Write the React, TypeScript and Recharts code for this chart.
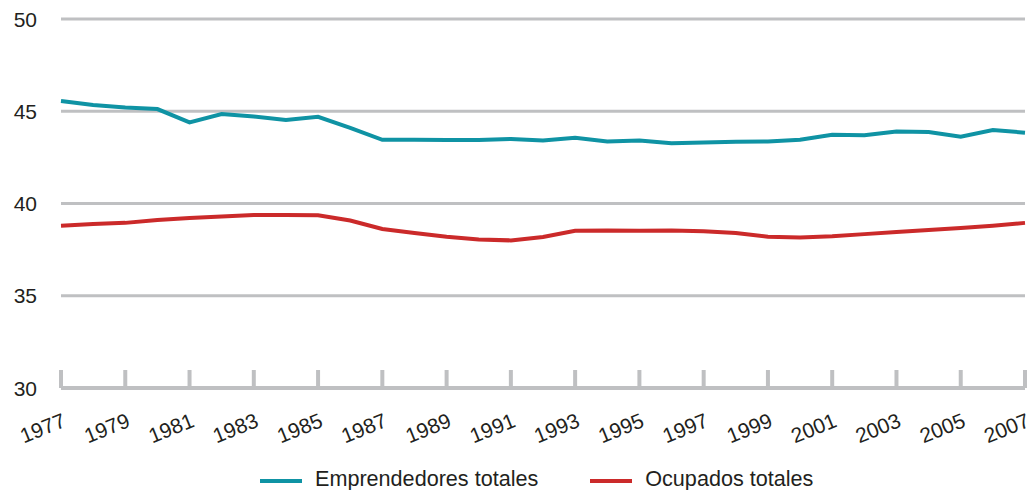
import { LineChart, Line, XAxis, YAxis, CartesianGrid, Legend } from 'recharts';

const years = [
  1977, 1978, 1979, 1980, 1981, 1982, 1983, 1984, 1985, 1986, 1987, 1988, 1989, 1990, 1991, 1992,
  1993, 1994, 1995, 1996, 1997, 1998, 1999, 2000, 2001, 2002, 2003, 2004, 2005, 2006, 2007
];

const emprendedores = [
  45.55, 45.34, 45.2, 45.12, 44.4, 44.85, 44.72, 44.52, 44.7, 44.1, 43.45, 43.46, 43.44, 43.44, 43.5,
  43.42, 43.56, 43.36, 43.42, 43.27, 43.3, 43.35, 43.36, 43.45, 43.72, 43.7, 43.9, 43.88, 43.62,
  43.98, 43.84
];

const ocupados = [
  38.8, 38.89, 38.95, 39.1, 39.22, 39.3, 39.37, 39.38, 39.36, 39.08, 38.62, 38.4, 38.2, 38.05, 38.0,
  38.18, 38.52, 38.54, 38.52, 38.54, 38.5, 38.4, 38.2, 38.16, 38.22, 38.34, 38.46, 38.56, 38.67,
  38.8, 38.95
];

const xTicks = [1977, 1979, 1981, 1983, 1985, 1987, 1989, 1991, 1993, 1995, 1997, 1999, 2001, 2003, 2005, 2007];
const yTicks = [30, 35, 40, 45, 50];

const seriesNames = ['Emprendedores totales', 'Ocupados totales'];
const TEAL = '#0F93A4';
const RED = '#CB2A2A';
const GRAY = '#BFC0C2';
const FONT = '"Liberation Sans", Arial, sans-serif';

const data = years.map((year, i) => ({
  year,
  emprendedores: emprendedores[i],
  ocupados: ocupados[i]
}));

const XTick = ({ x, y, payload }: any) => (
  <g>
    <line x1={x} x2={x} y1={y - 18} y2={y} stroke={GRAY} strokeWidth={4} />
    <text
      x={x + 6}
      y={y + 38}
      textAnchor="end"
      transform={`rotate(-22 ${x + 6} ${y + 38})`}
      fontFamily={FONT}
      fontSize={21}
      fill="#231F20"
    >
      {payload.value}
    </text>
  </g>
);

const YTick = ({ y, payload }: any) => (
  <text x={37} y={y + 7.5} textAnchor="end" fontFamily={FONT} fontSize={21} fill="#231F20">
    {payload.value}
  </text>
);

const LegendContent = () => (
  <div
    style={{
      display: 'flex',
      alignItems: 'center',
      height: 22,
      paddingLeft: 260,
      fontFamily: FONT,
      fontSize: 21.6,
      color: '#231F20'
    }}
  >
    <span style={{ width: 42, height: 4, background: TEAL, marginRight: 13, marginTop: 3 }} />
    <span style={{ marginRight: 52 }}>{seriesNames[0]}</span>
    <span style={{ width: 42, height: 4, background: RED, marginRight: 13, marginTop: 3 }} />
    <span>{seriesNames[1]}</span>
  </div>
);

export default function App() {
  return (
    <div style={{ position: 'absolute', left: 0, top: 0, background: '#fff' }}>
      <LineChart width={1032} height={490} data={data} margin={{ top: 19, right: 7, left: 0, bottom: 0 }}>
        <CartesianGrid horizontal vertical={false} stroke={GRAY} strokeWidth={3} />
        <XAxis
          dataKey="year"
          type="number"
          domain={[1977, 2007]}
          ticks={xTicks}
          interval={0}
          height={80}
          tickSize={0}
          tickMargin={0}
          tickLine={false}
          axisLine={{ stroke: GRAY, strokeWidth: 4 }}
          tick={<XTick />}
        />
        <YAxis
          type="number"
          domain={[30, 50]}
          ticks={yTicks}
          width={61}
          axisLine={false}
          tickLine={false}
          tick={<YTick />}
        />
        <Legend
          verticalAlign="bottom"
          content={<LegendContent />}
          wrapperStyle={{ position: 'absolute', left: 0, bottom: 0, width: 1032, height: 22 }}
        />
        <Line
          type="linear"
          dataKey="emprendedores"
          name={seriesNames[0]}
          stroke={TEAL}
          strokeWidth={4}
          dot={false}
          isAnimationActive={false}
        />
        <Line
          type="linear"
          dataKey="ocupados"
          name={seriesNames[1]}
          stroke={RED}
          strokeWidth={4}
          dot={false}
          isAnimationActive={false}
        />
      </LineChart>
    </div>
  );
}
